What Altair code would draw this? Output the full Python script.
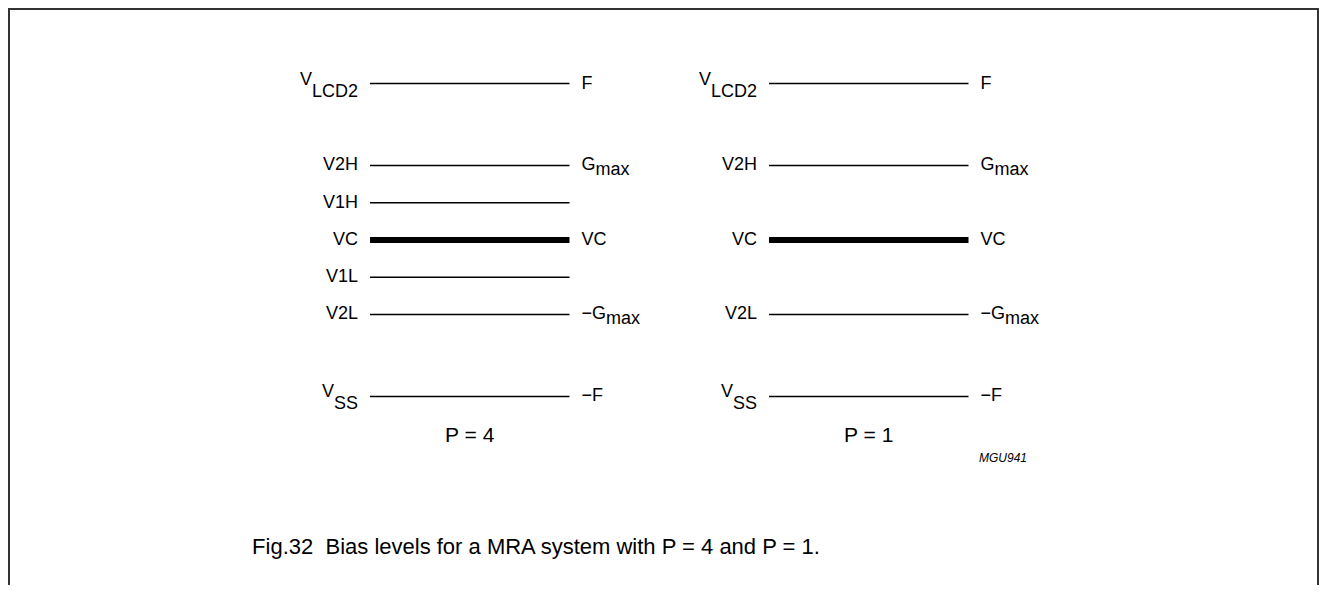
import altair as alt
import pandas as pd

# ---- data ----
levels = ["VLCD2", "V2H", "V1H", "VC", "V1L", "V2L", "VSS"]
level_values = [2.1, 1.0, 0.5, 0.0, -0.5, -1.0, -2.1]
left_main = ["V", "V2H", "V1H", "VC", "V1L", "V2L", "V"]
left_sub = ["LCD2", "", "", "", "", "", "SS"]
right_main = ["F", "G", "", "VC", "", "\u2212G", "\u2212F"]
right_sub = ["", "max", "", "", "", "max", ""]
panels = ["P = 4", "P = 1"]
panel_offsets = [0.0, 2.0]
panel_levels = [levels, ["VLCD2", "V2H", "VC", "V2L", "VSS"]]
panel_label_level = -2.63
caption = "Fig.32\u00a0 Bias levels for a MRA system with P = 4 and P = 1."
figure_code = "MGU941"

# ---- build tables ----
rows = []
for p, off, lv in zip(panels, panel_offsets, panel_levels):
    for i, name in enumerate(levels):
        if name in lv:
            rows.append(dict(panel=p, x0=off, x1=off + 1.0, level=name,
                             value=level_values[i], lmain=left_main[i], lsub=left_sub[i],
                             rmain=right_main[i], rsub=right_sub[i]))
df = pd.DataFrame(rows)
pdf = pd.DataFrame({"panel": panels, "xm": [o + 0.5 for o in panel_offsets],
                    "value": [panel_label_level] * len(panels)})

FONT = "Liberation Sans"
FS = 18
W, H = 1311, 577

# approximate Arial advance widths (per 1000 em) for label layout
AW = {"V": 667, "L": 556, "C": 722, "D": 722, "2": 556, "S": 667, "G": 778,
      "\u2212": 584, "F": 611, "m": 833, "a": 556, "x": 500}


def tw(s, fs=FS):
    return sum(AW.get(c, 600) for c in s) / 1000.0 * fs


xs = alt.Scale(domain=[-1.8145, -1.8145 + W / 199.5], nice=False, zero=False)
ys = alt.Scale(domain=[-4.6309, 3.1141], nice=False, zero=False)

base = alt.Chart(df)
X0 = alt.X("x0:Q", scale=xs, axis=None)
X1 = alt.X("x1:Q", scale=xs, axis=None)
Y = alt.Y("value:Q", scale=ys, axis=None)

layers = []
# level lines
layers.append(base.transform_filter(alt.datum.level != "VC").mark_rule(
    color="black", strokeWidth=1.5).encode(x=X0, x2="x1:Q", y=Y))
layers.append(base.transform_filter(alt.datum.level == "VC").mark_rule(
    color="black", strokeWidth=6).encode(x=X0, x2="x1:Q", y=Y))

# left labels without subscript
layers.append(base.transform_filter(alt.datum.lsub == "").mark_text(
    align="right", baseline="middle", dx=-12, font=FONT, fontSize=FS, color="black"
).encode(x=X0, y=Y, text="lmain:N"))
# left labels with subscript
for sub in sorted(set(s for s in left_sub if s)):
    sel = base.transform_filter(alt.datum.lsub == sub)
    layers.append(sel.mark_text(align="right", baseline="middle", dx=-12, dy=8,
                                font=FONT, fontSize=FS, color="black"
                                ).encode(x=X0, y=Y, text="lsub:N"))
    layers.append(sel.mark_text(align="right", baseline="middle", dx=-12 - tw(sub), dy=-4,
                                font=FONT, fontSize=FS, color="black"
                                ).encode(x=X0, y=Y, text="lmain:N"))

# right labels
layers.append(base.transform_filter(alt.datum.rmain != "").mark_text(
    align="left", baseline="middle", dx=12, font=FONT, fontSize=FS, color="black"
).encode(x=X1, y=Y, text="rmain:N"))
for m in sorted(set(rm for rm, rs in zip(right_main, right_sub) if rs)):
    sel = base.transform_filter((alt.datum.rmain == m) & (alt.datum.rsub != ""))
    layers.append(sel.mark_text(align="left", baseline="middle", dx=12 + tw(m), dy=5,
                                font=FONT, fontSize=FS, color="black"
                                ).encode(x=X1, y=Y, text="rsub:N"))

# panel labels
layers.append(alt.Chart(pdf).mark_text(
    align="center", baseline="middle", font=FONT, fontSize=21, color="black"
).encode(x=alt.X("xm:Q", scale=xs, axis=None), y=alt.Y("value:Q", scale=ys, axis=None),
         text="panel:N"))

# figure code and caption
ann = alt.Chart(pd.DataFrame({"t": [figure_code]}))
layers.append(ann.mark_text(align="center", baseline="middle", font=FONT, fontSize=12,
                            fontStyle="italic", color="black"
                            ).encode(x=alt.value(995), y=alt.value(450), text="t:N"))
cap = alt.Chart(pd.DataFrame({"t": [caption]}))
layers.append(cap.mark_text(align="center", baseline="middle", font=FONT, fontSize=22,
                            color="black"
                            ).encode(x=alt.value(528), y=alt.value(539), text="t:N"))

# frame
fr = alt.Chart(pd.DataFrame({"k": [0]}))
layers.append(fr.mark_rule(color="#333333", strokeWidth=2).encode(
    x=alt.value(0), x2=alt.value(W), y=alt.value(1)))
layers.append(fr.mark_rule(color="#333333", strokeWidth=2).encode(
    x=alt.value(1), y=alt.value(0), y2=alt.value(H)))
layers.append(fr.mark_rule(color="#333333", strokeWidth=2).encode(
    x=alt.value(W - 1), y=alt.value(0), y2=alt.value(H)))

chart = alt.layer(*layers).properties(
    width=W, height=H, padding=0, autosize=alt.AutoSizeParams(type="none")
).configure_view(stroke=None).configure(background="white")

chart.save("out.html", embed_options={"renderer": "svg", "actions": False})
